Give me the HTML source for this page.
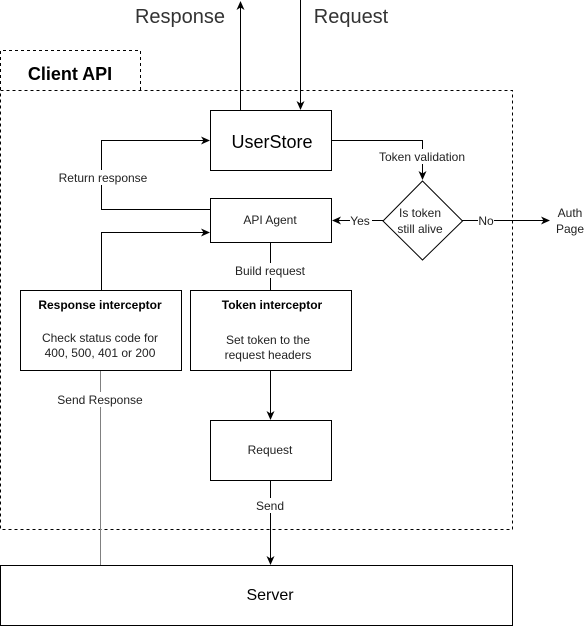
<!DOCTYPE html>
<html><head><meta charset="utf-8"><style>
html,body{margin:0;padding:0;background:#fff;}
svg{display:block;font-family:"Liberation Sans",sans-serif;}
</style></head><body>
<svg width="585" height="626" viewBox="0 0 585 626" xmlns="http://www.w3.org/2000/svg">
<defs>
<marker id="a" markerWidth="10" markerHeight="10" refX="8" refY="5" orient="auto" markerUnits="userSpaceOnUse">
<path d="M0,1 L9,5 L0,9 L2.5,5 Z" fill="#000"/></marker>
</defs>
<g fill="none" stroke="#000" stroke-width="1">
<path d="M0.5,90 V50.5 H140.5 V90" stroke-dasharray="3,3"/>
<rect x="0.5" y="90.5" width="512" height="439" stroke-dasharray="3,3"/>
<rect x="210.5" y="110.5" width="121" height="60"/>
<rect x="210.5" y="198.5" width="121" height="44"/>
<polygon points="422.5,181 462.5,221 422.5,260 383,221"/>
<rect x="20.5" y="290.5" width="161" height="80"/>
<rect x="190.5" y="290.5" width="161" height="80"/>
<rect x="210.5" y="420.5" width="121" height="60"/>
<rect x="0.5" y="565.5" width="512" height="60"/>
<path d="M240.5,110 V2" marker-end="url(#a)"/>
<path d="M300.5,0 V109" marker-end="url(#a)"/>
<path d="M331,140.5 H422.5 V179" marker-end="url(#a)"/>
<path d="M383,220.5 H333" marker-end="url(#a)"/>
<path d="M462,220.5 H549" marker-end="url(#a)"/>
<path d="M210,209.5 H101.5 V140.5 H209" marker-end="url(#a)"/>
<path d="M101.5,290 V232.5 H209" marker-end="url(#a)"/>
<path d="M270.5,243 V290"/>
<path d="M270.5,371 V419" marker-end="url(#a)"/>
<path d="M270.5,481 V564" marker-end="url(#a)"/>
<path d="M100.5,371 V565" stroke="#808080"/>
</g>
<g font-size="12" fill="#222" text-anchor="middle">
<rect x="60" y="170" width="86" height="15" fill="#fff"/>
<text x="103" y="182">Return response</text>
<rect x="374" y="149" width="96" height="15" fill="#fff"/>
<text x="422" y="161">Token validation</text>
<rect x="350" y="213" width="22" height="15" fill="#fff"/>
<text x="360" y="225">Yes</text>
<rect x="478" y="213" width="16" height="15" fill="#fff"/>
<text x="486" y="225">No</text>
<text x="420" y="217">Is token</text>
<text x="420" y="233">still alive</text>
<text x="570" y="217">Auth</text>
<text x="570" y="233">Page</text>
<text x="270" y="224">API Agent</text>
<rect x="230" y="263" width="80" height="15" fill="#fff"/>
<text x="270" y="275">Build request</text>
<text x="100" y="309" font-weight="bold" fill="#000">Response interceptor</text>
<text x="100" y="342">Check status code for</text>
<text x="100" y="357">400, 500, 401 or 200</text>
<text x="272" y="309" font-weight="bold" fill="#000">Token interceptor</text>
<text x="268" y="344">Set token to the</text>
<text x="268" y="359">request headers</text>
<rect x="55" y="392" width="90" height="15" fill="#fff"/>
<text x="100" y="404">Send Response</text>
<text x="270" y="454">Request</text>
<rect x="252" y="498" width="36" height="15" fill="#fff"/>
<text x="270" y="510">Send</text>
<text x="270" y="600" font-size="16" fill="#000">Server</text>
<text x="180" y="23" font-size="20" fill="#333">Response</text>
<text x="351" y="23" font-size="20" fill="#333">Request</text>
<text x="272" y="148" font-size="18" fill="#000">UserStore</text>
<text x="70" y="80" font-size="18" font-weight="bold" fill="#000">Client API</text>
</g>
</svg>
</body></html>
